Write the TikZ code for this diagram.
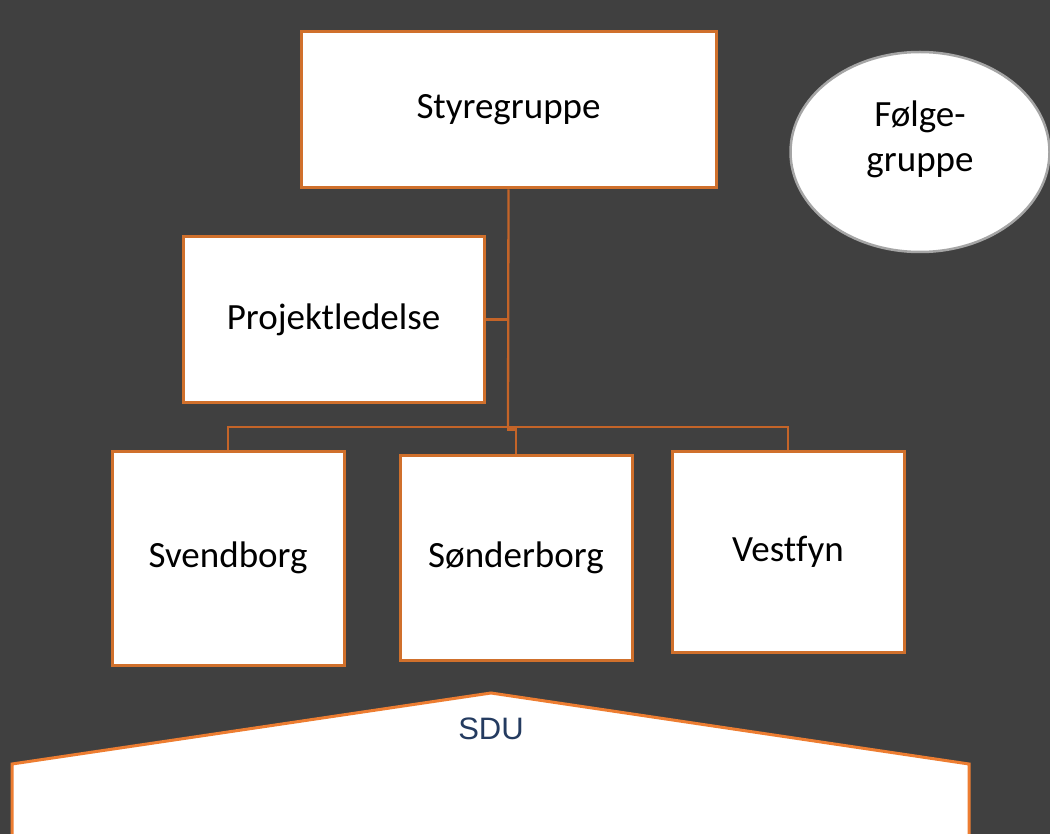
\documentclass[tikz,border=0pt]{standalone}
\usepackage{fontspec}
\setmainfont{Carlito}[Ligatures=NoCommon]
\newfontfamily\sdufont{Liberation Sans}
\usetikzlibrary{shapes.geometric}
\definecolor{bg}{RGB}{64,64,64}
\definecolor{boxorange}{RGB}{208,112,44}
\definecolor{lineorange}{RGB}{196,100,40}
\definecolor{sduorange}{RGB}{237,125,49}
\definecolor{sdublue}{RGB}{36,59,96}
\definecolor{circgrey}{RGB}{165,165,165}
\tikzset{
  orgbox/.style={draw=boxorange, line width=3pt, fill=white, inner sep=0pt,
    font=\fontsize{37}{44}\selectfont, text=black},
  conn/.style={draw=lineorange, line width=2.3pt},
}
\begin{document}
\begin{tikzpicture}[x=1pt,y=-1pt]
\useasboundingbox (0,0) rectangle (1050,834);
\fill[bg] (0,0) rectangle (1050,834);
\clip (0,0) rectangle (1050,834);

% SDU shape
\draw[draw=sduorange, line width=3pt, fill=white]
  (12,764) -- (491,693) -- (969,764) -- (969,860) -- (12,860) -- cycle;
\node[font=\sdufont\fontsize{31}{36}\selectfont, text=sdublue] (sdu) at (491,729) {SDU};

% boxes
\node[orgbox, minimum width=415pt, minimum height=156pt] (sty) at (508.5,110) {Styregruppe};
\node[orgbox, minimum width=301pt, minimum height=165pt] (pro) at (333.5,319.5) {Projektledelse};
\node[orgbox, minimum width=232pt, minimum height=214pt] (svd) at (228,558) {Svendborg};
\node[orgbox, minimum width=232pt, minimum height=205pt] (son) at (516,557.5) {Sønderborg};
\node[orgbox, minimum width=232pt, minimum height=201pt] (ves) at (788,551.5) {Vestfyn};

% circle
\node[ellipse, draw=circgrey, line width=2.5pt, fill=white, minimum width=259pt, minimum height=200pt,
  inner sep=0pt, align=center, font=\fontsize{37}{45}\selectfont] (fol) at (920,152)
  {Følge-\\gruppe\\[-26pt]\strut};

% connectors
\coordinate (j1) at (508,427);
\coordinate (j2) at (508,429.5);
\draw[conn] (sty.south) -- (j1);
\draw[conn] (pro.east) -- (pro.east -| j1);
\draw[conn] (svd.north) |- (j1) -| (ves.north);
\draw[conn] (j1) -- (j2) -| (son.north);
\end{tikzpicture}
\end{document}
